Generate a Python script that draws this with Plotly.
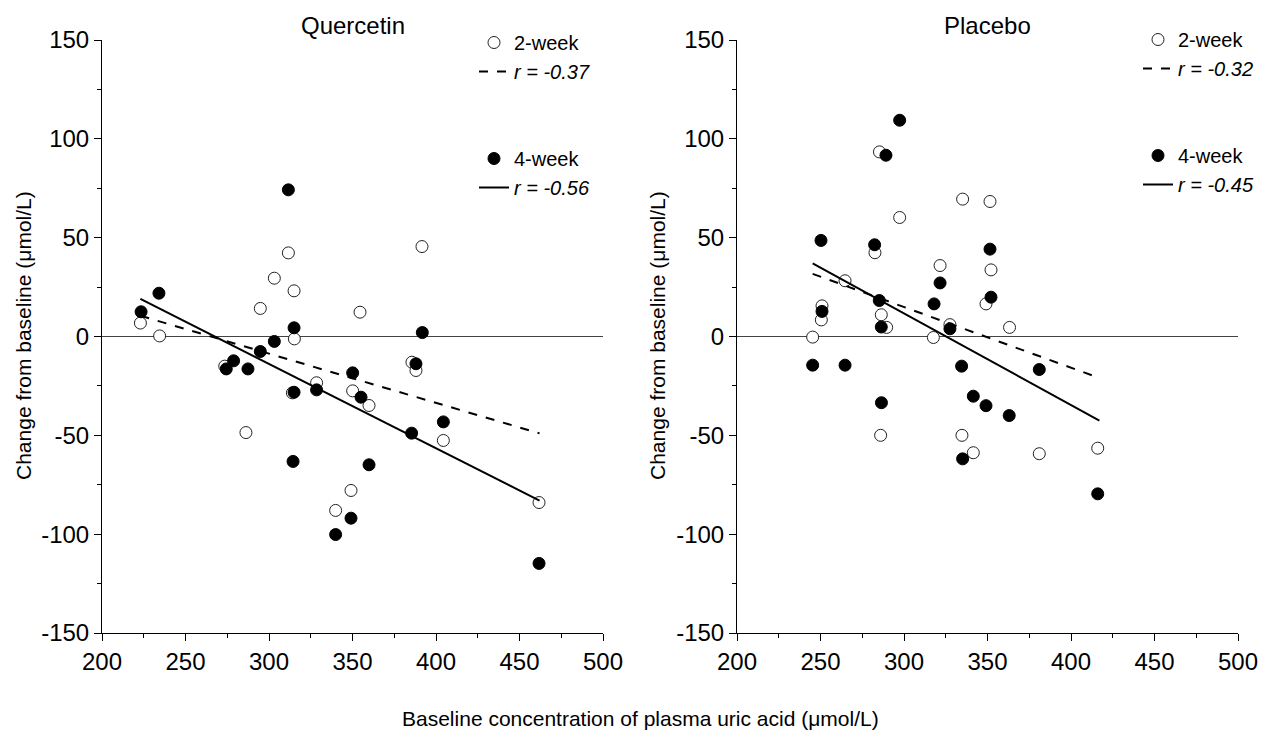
import plotly.graph_objects as go

# ---------------- data ----------------
# Quercetin panel
q2_x = [223, 234.5, 294.8, 303.2, 311.6, 315, 315.2, 314, 286.2, 273.5, 328.5,
        350.1, 354.5, 359.9, 339.9, 349.1, 385.6, 388, 391.6, 404.4, 461.7]
q2_y = [6.8, 0.3, 14.2, 29.5, 42.3, 23.1, -1.2, -28.5, -48.6, -15, -23.4,
        -27.5, 12.3, -34.9, -88, -77.9, -13, -17.2, 45.5, -52.6, -84]
q4_x = [223.4, 234.1, 274.4, 278.8, 287.4, 294.8, 303.2, 311.6, 315, 315, 314.4,
        328.5, 350.1, 355.1, 359.9, 339.9, 349.1, 385.4, 388, 391.8, 404.4, 461.7]
q4_y = [12.5, 21.9, -16.4, -12.3, -16.4, -7.6, -2.5, 74.2, 4.4, -28.2, -63.2,
        -27, -18.4, -30.7, -64.9, -100.2, -91.9, -48.9, -13.8, 2.0, -43.2, -114.8]
q2_fit_x = [223, 462]
q2_fit_y = [10.5, -49]
q4_fit_x = [223, 462]
q4_fit_y = [19, -83]

# Placebo panel
p2_x = [245.3, 250.5, 250.9, 264.7, 282.6, 285.3, 286.4, 289.6, 286, 297.4, 317.6,
        321.6, 327.5, 335.1, 334.7, 341.5, 349.1, 351.5, 352.1, 363.2, 381, 416]
p2_y = [-0.3, 8.4, 15.5, 28.2, 42.4, 93.4, 11, 4.6, -50, 60.2, -0.5,
        35.9, 6, 69.5, -50, -58.8, 16.5, 68.3, 33.7, 4.6, -59.3, -56.5]
p4_x = [245.3, 250.3, 250.9, 264.7, 282.4, 285.2, 286.4, 286.5, 289.2, 297.4, 318,
        321.6, 327.5, 334.5, 335.1, 341.5, 349.1, 351.5, 352.1, 363, 381, 416]
p4_y = [-14.5, 48.6, 12.7, -14.5, 46.4, 18.2, 4.8, -33.5, 91.7, 109.4, 16.5,
        27.1, 3.9, -15, -61.9, -30.2, -35, 44.2, 19.9, -40, -16.7, -79.6]
p2_fit_x = [245.3, 417]
p2_fit_y = [31.7, -21]
p4_fit_x = [245.3, 417]
p4_fit_y = [37, -42.5]

panel_titles = ["Quercetin", "Placebo"]
r_labels = {"q2": "r = -0.37", "q4": "r = -0.56", "p2": "r = -0.32", "p4": "r = -0.45"}
x_ticks = [200, 250, 300, 350, 400, 450, 500]
y_ticks = [-150, -100, -50, 0, 50, 100, 150]
y_tick_text = ["-150", "-100", "-50", "0", "50", "100", "150"]

# ---------------- figure ----------------
W, H = 1277, 743
OFF = 8  # page body margin of the html page
FONT = "Arial, Liberation Sans, sans-serif"

fig = go.Figure()

open_marker = dict(symbol="circle", size=12, color="white",
                   line=dict(color="#222", width=1))
fill_marker = dict(symbol="circle", size=12, color="black",
                   line=dict(color="black", width=1))


def add_panel(xa, ya, legend, x2, y2, x4, y4, f2x, f2y, f4x, f4y, r2, r4, g):
    fig.add_trace(go.Scatter(x=x2, y=y2, mode="markers", marker=open_marker,
                             name="2-week", legendgroup=g + "2", legend=legend,
                             xaxis=xa, yaxis=ya))
    fig.add_trace(go.Scatter(x=f2x, y=f2y, mode="lines",
                             line=dict(color="black", width=2, dash="dash"),
                             name="<i>" + r2 + "</i>", legendgroup=g + "2",
                             legend=legend, xaxis=xa, yaxis=ya))
    fig.add_trace(go.Scatter(x=x4, y=y4, mode="markers", marker=fill_marker,
                             name="4-week", legendgroup=g + "4", legend=legend,
                             xaxis=xa, yaxis=ya))
    fig.add_trace(go.Scatter(x=f4x, y=f4y, mode="lines",
                             line=dict(color="black", width=2),
                             name="<i>" + r4 + "</i>", legendgroup=g + "4",
                             legend=legend, xaxis=xa, yaxis=ya))


add_panel("x", "y", "legend", q2_x, q2_y, q4_x, q4_y,
          q2_fit_x, q2_fit_y, q4_fit_x, q4_fit_y, r_labels["q2"], r_labels["q4"], "q")
add_panel("x2", "y2", "legend2", p2_x, p2_y, p4_x, p4_y,
          p2_fit_x, p2_fit_y, p4_fit_x, p4_fit_y, r_labels["p2"], r_labels["p4"], "p")


def px(xp):
    return (xp - OFF) / W


def py(yp):
    return 1 - (yp - OFF) / H


# plot area pixel boxes (screen pixels)
left_px = (102, 603)
right_px = (737, 1238)
top_px, bot_px = 40, 633
ydom = [py(bot_px), py(top_px)]

common_x = dict(range=[200, 500], tickvals=x_ticks, ticks="outside", ticklen=7,
                tickwidth=1, tickcolor="black", showline=True, linecolor="black",
                linewidth=1, showgrid=False, zeroline=False, automargin=False,
                minor=dict(dtick=25, tick0=200, ticks="outside", ticklen=4,
                           tickcolor="black", showgrid=False),
                tickfont=dict(size=24, color="black", family=FONT))
common_y = dict(range=[-150, 150], tickvals=y_ticks, ticktext=y_tick_text,
                ticks="outside", ticklen=7,
                tickwidth=1, tickcolor="black", showline=True, linecolor="black",
                linewidth=1, showgrid=False, zeroline=True, zerolinecolor="#444",
                zerolinewidth=1, automargin=False,
                minor=dict(dtick=25, tick0=-150, ticks="outside", ticklen=4,
                           tickcolor="black", showgrid=False),
                tickfont=dict(size=24, color="black", family=FONT))

fig.update_layout(
    width=W, height=H,
    margin=dict(l=0, r=0, t=0, b=0, autoexpand=False),
    paper_bgcolor="white", plot_bgcolor="white",
    font=dict(family=FONT, color="black"),
    xaxis=dict(domain=[px(left_px[0]), px(left_px[1])], anchor="y", **common_x),
    yaxis=dict(domain=ydom, anchor="x", **common_y),
    xaxis2=dict(domain=[px(right_px[0]), px(right_px[1])], anchor="y2", **common_x),
    yaxis2=dict(domain=ydom, anchor="x2", **common_y),
    legend=dict(x=px(474), y=py(23), xanchor="left", yanchor="top",
                bgcolor="rgba(0,0,0,0)", font=dict(size=20, family=FONT),
                tracegroupgap=58, traceorder="grouped", itemwidth=30),
    legend2=dict(x=px(1138), y=py(20), xanchor="left", yanchor="top",
                 bgcolor="rgba(0,0,0,0)", font=dict(size=20, family=FONT),
                 tracegroupgap=58, traceorder="grouped", itemwidth=30),
    showlegend=True,
)

annotations = [
    dict(text=panel_titles[0], x=px((left_px[0] + left_px[1]) / 2), y=py(25),
         xref="paper", yref="paper", showarrow=False, xanchor="center",
         yanchor="middle", font=dict(size=24)),
    dict(text=panel_titles[1], x=px((right_px[0] + right_px[1]) / 2), y=py(25),
         xref="paper", yref="paper", showarrow=False, xanchor="center",
         yanchor="middle", font=dict(size=24)),
    dict(text="Baseline concentration of plasma uric acid (\u03bcmol/L)",
         x=px(640), y=py(718), xref="paper", yref="paper", showarrow=False,
         xanchor="center", yanchor="middle", font=dict(size=21)),
    dict(text="Change from baseline (\u03bcmol/L)", x=px(23), y=py(336),
         xref="paper", yref="paper", showarrow=False, textangle=-90,
         xanchor="center", yanchor="middle", font=dict(size=21)),
    dict(text="Change from baseline (\u03bcmol/L)", x=px(657), y=py(336),
         xref="paper", yref="paper", showarrow=False, textangle=-90,
         xanchor="center", yanchor="middle", font=dict(size=21)),
]
fig.update_layout(annotations=annotations)

fig.write_html("out.html")
